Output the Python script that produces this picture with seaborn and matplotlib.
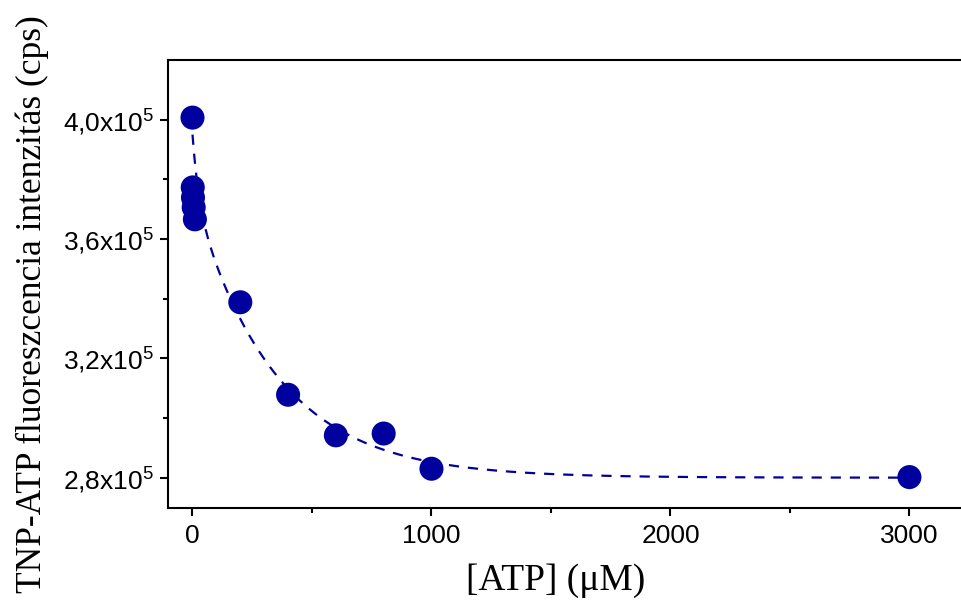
import numpy as np
import pandas as pd
import matplotlib
matplotlib.use("Agg")
import matplotlib.pyplot as plt
import seaborn as sns

# ---- data ----
atp_uM = [0, 1, 2, 5, 10, 200, 400, 600, 800, 1000, 3000]
intensity = [4.007e5, 3.773e5, 3.739e5, 3.706e5, 3.666e5, 3.388e5,
             3.078e5, 2.942e5, 2.948e5, 2.830e5, 2.802e5]

# fitted double-exponential decay parameters
fit_y0 = 2.80e5
fit_a_fast = 0.20e5
fit_t_fast = 25.0
fit_a_slow = 0.95e5
fit_t_slow = 345.0
fit_x_range = (0, 3000)

yticks = [2.8e5, 3.2e5, 3.6e5, 4.0e5]
ytick_labels = [r'2,8x10$^{\mathregular{5}}$', r'3,2x10$^{\mathregular{5}}$',
                r'3,6x10$^{\mathregular{5}}$', r'4,0x10$^{\mathregular{5}}$']
xticks = [0, 1000, 2000, 3000]
xlabel = '[ATP] (μM)'
ylabel = 'TNP-ATP fluoreszcencia intenzitás (cps)'

color = '#00009E'

sns.set_theme(style='ticks')
plt.rcParams['font.family'] = ['Liberation Sans', 'DejaVu Sans']
plt.rcParams['mathtext.fontset'] = 'custom'
plt.rcParams['mathtext.rm'] = 'Liberation Sans'
plt.rcParams['mathtext.it'] = 'Liberation Sans'
plt.rcParams['text.color'] = 'black'
plt.rcParams['axes.labelcolor'] = 'black'
plt.rcParams['xtick.color'] = 'black'
plt.rcParams['ytick.color'] = 'black'

fig = plt.figure(figsize=(9.62, 6.10), dpi=100)
ax = fig.add_axes([168 / 962, 0.168, 1 - 168 / 962, 0.7336])

xf = np.linspace(fit_x_range[0], fit_x_range[1], 1500)
yf = fit_y0 + fit_a_fast * np.exp(-xf / fit_t_fast) + fit_a_slow * np.exp(-xf / fit_t_slow)
fit_df = pd.DataFrame({'x': xf, 'y': yf})
sns.lineplot(data=fit_df, x='x', y='y', ax=ax, color=color, lw=1.6, zorder=2)
ax.lines[-1].set_dashes((4.6, 4.0))

df = pd.DataFrame({'atp': atp_uM, 'intensity': intensity})
sns.scatterplot(data=df, x='atp', y='intensity', ax=ax, color=color, s=300,
                edgecolor='none', linewidth=0, zorder=3)

ax.set_xlim(-102.5, 3220)
ax.set_ylim(2.70e5, 4.20e5)
ax.set_xticks(xticks)
ax.set_xticklabels([str(t) for t in xticks])
ax.set_xticks([500, 1500, 2500], minor=True)
ax.set_yticks(yticks)
ax.set_yticklabels(ytick_labels)
ax.set_yticks([3.0e5, 3.4e5, 3.8e5], minor=True)

ax.tick_params(axis='both', which='major', direction='out', length=6, width=1.5,
               labelsize=19, color='black', labelcolor='black')
ax.tick_params(axis='both', which='minor', direction='out', length=3.6, width=1.5,
               color='black')
ax.tick_params(axis='y', which='major', pad=4)
ax.tick_params(axis='x', which='major', pad=6)

for side in ['left', 'bottom', 'top']:
    ax.spines[side].set_visible(True)
    ax.spines[side].set_linewidth(1.5)
    ax.spines[side].set_color('black')
ax.spines['right'].set_visible(False)

ax.set_xlabel(xlabel, family=['Liberation Serif', 'DejaVu Serif'], fontsize=27,
              color='black')
ax.set_ylabel(ylabel, family=['Liberation Serif', 'DejaVu Serif'], fontsize=25.5,
              color='black')
ax.xaxis.set_label_coords((556 - 168) / 794, -0.125)
ax.yaxis.set_label_coords(-0.15, 0.455)

fig.savefig('out.png', dpi=100, facecolor='white')
